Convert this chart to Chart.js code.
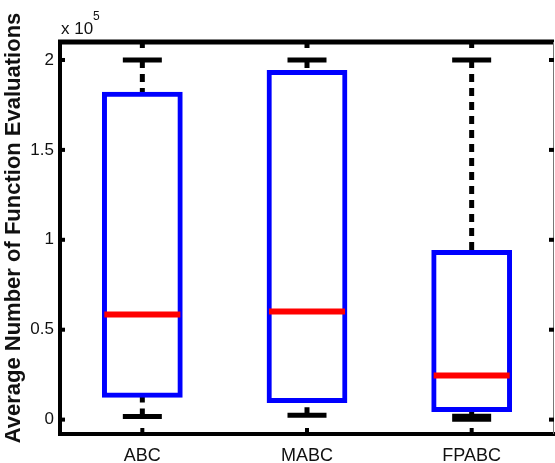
<!DOCTYPE html>
<html>
<head>
<meta charset="utf-8">
<script src="https://cdn.jsdelivr.net/npm/chart.js@4"></script>
<style>
html, body { margin: 0; padding: 0; background: #fff; }
#wrap { width: 555px; height: 463px; }
</style>
</head>
<body>
<div id="wrap"><canvas id="boxChart" width="555" height="463"></canvas></div>
<script>
// --- Data (values in units of 1e5) ---
const categories = ['ABC', 'MABC', 'FPABC'];
const whiskerMax = [2.0, 2.0, 2.0];
const quartile3 = [1.81, 1.93, 0.93];
const medians = [0.584, 0.601, 0.245];
const quartile1 = [0.136, 0.106, 0.056];
const whiskerMin = [0.018, 0.024, 0.011];
const yTicks = [0, 0.5, 1, 1.5, 2];
const yTitle = 'Average Number of Function Evaluations';

const FONT = "'Liberation Sans', Arial, sans-serif";
const TEXT = '#111';

// whisker segments, one dataset per segment
const whiskerSets = [];
categories.forEach((cat, i) => {
    [[whiskerMax[i], quartile3[i]], [whiskerMin[i], quartile1[i]]].forEach(seg => {
        whiskerSets.push({
            type: 'line',
            data: [{ x: cat, y: seg[0] }, { x: cat, y: seg[1] }],
            borderColor: '#000',
            borderWidth: 5,
            borderDash: [8, 6],
            pointRadius: 0,
            order: 5
        });
    });
});

// frame, inward ticks, axis title and exponent label (MATLAB style)
const framePlugin = {
    id: 'frame',
    afterDraw(chart) {
        const ctx = chart.ctx;
        const a = chart.chartArea;
        const x = chart.scales.x;
        const y = chart.scales.y;
        ctx.save();
        ctx.fillStyle = '#000';
        ctx.fillRect(a.left - 2, a.top - 2.5, a.right - a.left + 2, 5);
        ctx.strokeStyle = '#777';
        ctx.lineWidth = 1;
        ctx.beginPath();
        ctx.moveTo(a.right - 0.5, a.top);
        ctx.lineTo(a.right - 0.5, a.bottom);
        ctx.stroke();
        yTicks.forEach(v => {
            const py = y.getPixelForValue(v);
            ctx.fillRect(a.left, py - 2, 5, 4);
            ctx.fillRect(a.right - 5, py - 2, 5, 4);
        });
        categories.forEach((c, i) => {
            const px = x.getPixelForValue(i);
            ctx.fillRect(px - 2.5, a.top, 5, 6);
            ctx.fillRect(px - 2, a.bottom - 6, 4, 6);
        });
        ctx.fillStyle = TEXT;
        ctx.textBaseline = 'alphabetic';
        ctx.font = '17px ' + FONT;
        ctx.fillText('x 10', 61, 34);
        ctx.font = '12px ' + FONT;
        ctx.fillText('5', 93, 20);

        // y axis title
        ctx.translate(14, 228);
        ctx.rotate(-Math.PI / 2);
        ctx.textAlign = 'center';
        ctx.textBaseline = 'middle';
        ctx.font = 'bold 22px ' + FONT;
        ctx.fillText(yTitle, 0, 0);
        ctx.restore();
    }
};

const ctx = document.getElementById('boxChart').getContext('2d');
const myChart = new Chart(ctx, {
    data: {
        labels: categories,
        datasets: [
            {
                type: 'line',
                data: medians,
                showLine: false,
                pointStyle: 'line',
                pointRadius: 38,
                pointBorderWidth: 6,
                pointBorderColor: '#ff0000',
                order: 0
            },
            {
                type: 'line',
                data: whiskerMax,
                showLine: false,
                pointStyle: 'line',
                pointRadius: 19.5,
                pointBorderWidth: 5,
                pointBorderColor: '#000',
                order: 1
            },
            {
                type: 'line',
                data: whiskerMin,
                showLine: false,
                pointStyle: 'line',
                pointRadius: 19.5,
                pointBorderWidth: [5, 5, 8],
                pointBorderColor: '#000',
                order: 1
            },
            {
                type: 'bar',
                data: categories.map((c, i) => [quartile1[i], quartile3[i]]),
                backgroundColor: '#fff',
                borderColor: '#0000ff',
                borderWidth: 5,
                borderSkipped: false,
                inflateAmount: 2.5,
                barPercentage: 0.46,
                categoryPercentage: 1,
                order: 3
            },
            ...whiskerSets
        ]
    },
    options: {
        responsive: false,
        animation: false,
        events: [],
        layout: { autoPadding: false, padding: { top: 42, right: 1, left: 0, bottom: 0 } },
        plugins: {
            legend: { display: false },
            tooltip: { enabled: false }
        },
        scales: {
            x: {
                type: 'category',
                offset: true,
                grid: { display: false, drawTicks: false },
                border: { display: true, color: '#000', width: 4 },
                ticks: {
                    color: TEXT,
                    font: { family: FONT, size: 18 },
                    padding: 11
                },
                afterFit(s) {
                    s.height = 29;
                    s.paddingLeft = 0;
                    s.paddingRight = 0;
                }
            },
            y: {
                min: -0.08,
                max: 2.1,
                afterBuildTicks(s) { s.ticks = yTicks.map(v => ({ value: v })); },
                grid: { display: false, drawTicks: false },
                border: { display: true, color: '#000', width: 4 },
                ticks: {
                    color: TEXT,
                    font: { family: FONT, size: 17 },
                    padding: 6,
                    callback: v => String(v)
                },
                afterFit(s) {
                    s.width = 60;
                    s.paddingTop = 0;
                    s.paddingBottom = 0;
                }
            }
        }
    },
    plugins: [framePlugin]
});
</script>
</body>
</html>
